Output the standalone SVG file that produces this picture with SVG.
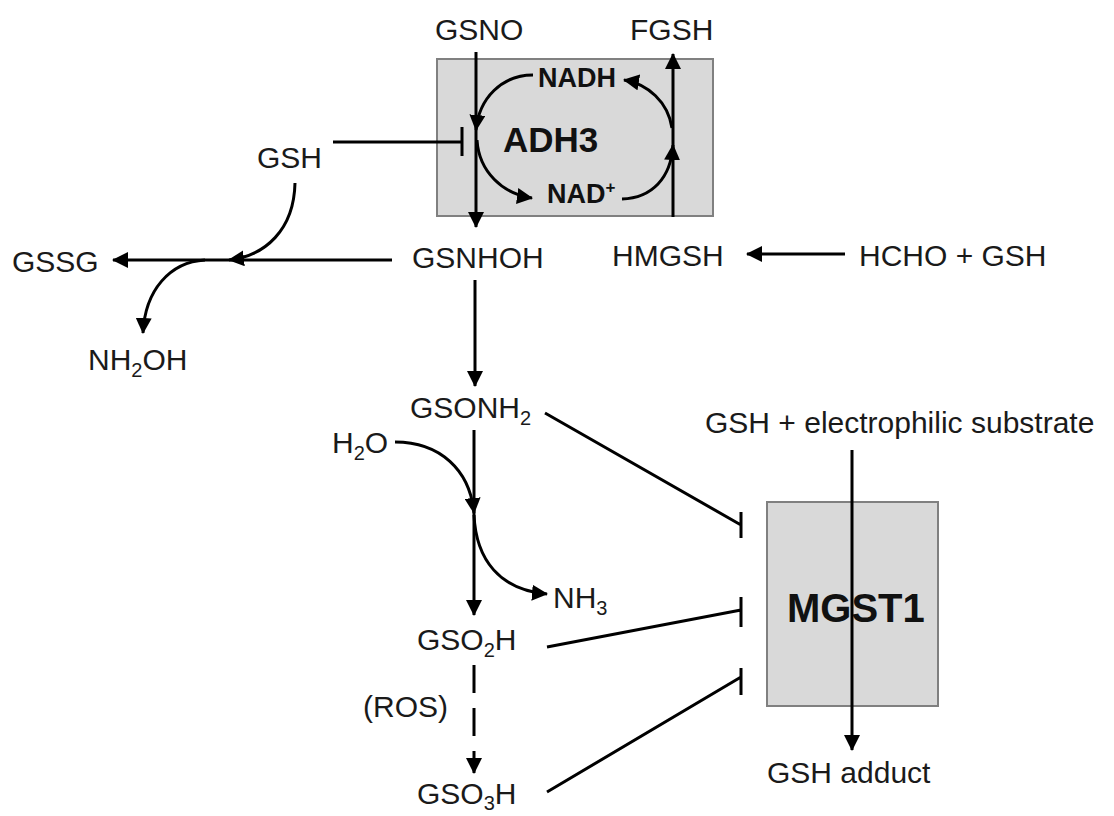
<svg xmlns="http://www.w3.org/2000/svg" width="1114" height="816" viewBox="0 0 1114 816">
<defs>
<style>
.t{font-family:"Liberation Sans",Arial,sans-serif;font-size:30px;fill:#1a1a1a}
.b{font-family:"Liberation Sans",Arial,sans-serif;font-weight:bold;fill:#111}
.box{fill:#d9d9d9;stroke:#808080;stroke-width:2}
.ln{fill:none;stroke:#000;stroke-width:3}
.ar{marker-end:url(#ah)}
</style>
<marker id="ah" viewBox="0 0 16 16" refX="15" refY="8" markerWidth="16" markerHeight="16" markerUnits="userSpaceOnUse" orient="auto">
<path d="M0,0 L16,8 L0,16 z" fill="#000"/>
</marker>
</defs>
<rect width="1114" height="816" fill="#fff"/>
<g id="ADH3"><rect class="box" x="437" y="59" width="276" height="157"/><text class="b" x="503" y="152" font-size="35">ADH3</text></g>
<g id="NADH"><text class="b" x="538" y="87" font-size="27">NADH</text></g>
<g id="NADplus"><text class="b" x="547" y="203" font-size="27">NAD<tspan font-size="17" dy="-10">+</tspan></text></g>
<g id="GSNO"><text class="t" x="435" y="40">GSNO</text></g>
<g id="FGSH"><text class="t" x="630" y="40">FGSH</text></g>
<g id="GSH"><text class="t" x="257" y="168">GSH</text></g>
<g id="GSSG"><text class="t" x="12" y="272">GSSG</text></g>
<g id="GSNHOH"><text class="t" x="412" y="268">GSNHOH</text></g>
<g id="HMGSH"><text class="t" x="612" y="266">HMGSH</text></g>
<g id="HCHO"><text class="t" x="859" y="266" font-size="31">HCHO + GSH</text></g>
<g id="NH2OH"><text class="t" x="88" y="370">NH<tspan font-size="20" dy="7">2</tspan><tspan dy="-7">OH</tspan></text></g>
<g id="GSONH2"><text class="t" x="410" y="418">GSONH<tspan font-size="20" dy="7">2</tspan></text></g>
<g id="H2O"><text class="t" x="332" y="453">H<tspan font-size="20" dy="7">2</tspan><tspan dy="-7">O</tspan></text></g>
<g id="NH3"><text class="t" x="553" y="608">NH<tspan font-size="20" dy="7">3</tspan></text></g>
<g id="GSO2H"><text class="t" x="417" y="650">GSO<tspan font-size="20" dy="7">2</tspan><tspan dy="-7">H</tspan></text></g>
<g id="ROS"><text class="t" x="363" y="717" font-size="31">(ROS)</text></g>
<g id="GSO3H"><text class="t" x="417" y="804">GSO<tspan font-size="20" dy="6">3</tspan><tspan dy="-6">H</tspan></text></g>
<g id="substrate"><text class="t" x="705" y="433" font-size="31">GSH + electrophilic substrate</text></g>
<g id="MGST1"><rect class="box" x="767" y="502" width="171" height="204"/><text class="b" x="787" y="622" font-size="40">MGST1</text></g>
<g id="adduct"><text class="t" x="767" y="783" font-size="31">GSH adduct</text></g>
<g id="connectors">
<path class="ln ar" d="M476,52 V227"/>
<path class="ln ar" d="M673,217 V54"/>
<path class="ln ar" d="M533,75 C502,75 479,98 476,130"/>
<path class="ln ar" d="M477,140 C479,172 503,194 532,198"/>
<path class="ln ar" d="M622,199 C652,198 671,178 673,145"/>
<path class="ln ar" d="M672,128 C668,102 648,84 624,80"/>
<path class="ln" d="M333,142 H462 M462,127 V156"/>
<path class="ln ar" d="M392,260 H113"/>
<path class="ln ar" d="M295,183 C294,230 265,256 229,260"/>
<path class="ln ar" d="M205,260 C170,262 145,290 143,333"/>
<path class="ln ar" d="M845,254 H747"/>
<path class="ln ar" d="M475,280 V386"/>
<path class="ln ar" d="M474,430 V615"/>
<path class="ln ar" d="M395,442 C440,442 470,470 474,513"/>
<path class="ln ar" d="M474,515 C476,560 500,590 547,594"/>
<path class="ln ar" d="M474,665 V773" stroke-dasharray="28 15"/>
<path class="ln" d="M545,413 L741,525 M741,512 V538"/>
<path class="ln" d="M547,647 L741,610 M741,597 V627"/>
<path class="ln" d="M547,792 L741,677 M741,668 V695"/>
<path class="ln ar" d="M852,450 V750"/>
</g>
</svg>
